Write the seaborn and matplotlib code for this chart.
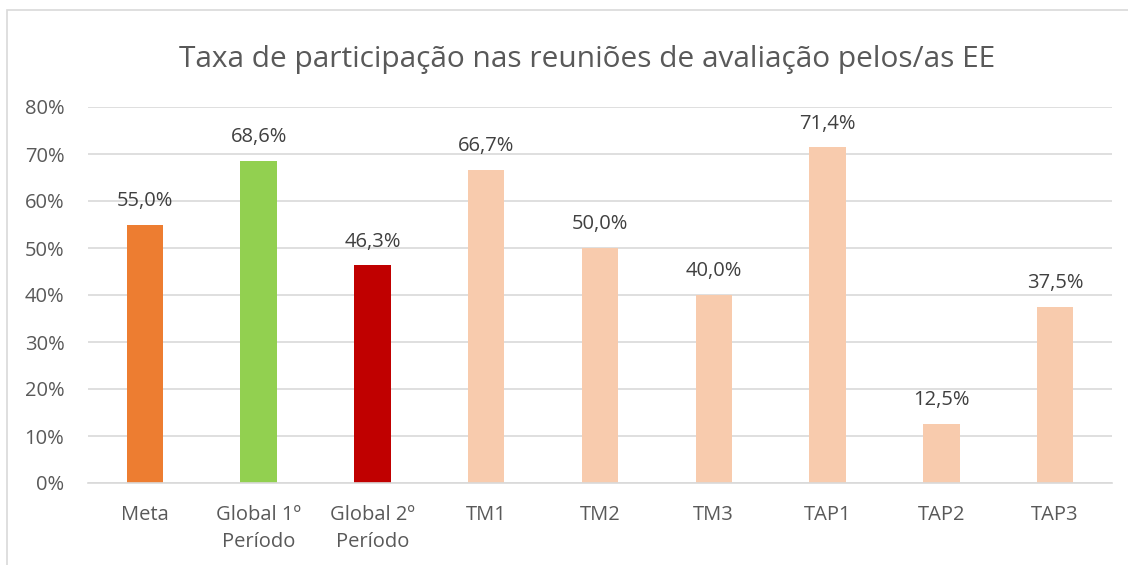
import matplotlib
matplotlib.use("Agg")
import matplotlib.pyplot as plt
import seaborn as sns
import pandas as pd
from matplotlib.patches import Rectangle

# --- dados ---
categorias = ["Meta", "Global 1º\nPeríodo", "Global 2º\nPeríodo", "TM1", "TM2", "TM3", "TAP1", "TAP2", "TAP3"]
valores = [55.0, 68.6, 46.3, 66.7, 50.0, 40.0, 71.4, 12.5, 37.5]
cores = ["#ED7D31", "#92D050", "#C00000", "#F8CBAD", "#F8CBAD", "#F8CBAD", "#F8CBAD", "#F8CBAD", "#F8CBAD"]
y_ticks = [0, 10, 20, 30, 40, 50, 60, 70, 80]

sns.set_theme(style="white")
plt.rcParams["font.family"] = ["Open Sans", "DejaVu Sans"]
TXT = "#595959"

df = pd.DataFrame({"cat": categorias, "val": valores})

fig = plt.figure(figsize=(11.28, 5.65), dpi=100)
ax = fig.add_axes([88 / 1128, 1 - 483 / 565, (1112 - 88) / 1128, (483 - 107) / 565])

sns.barplot(data=df, x="cat", y="val", hue="cat", palette=cores, legend=False,
            width=0.32, saturation=1, linewidth=0, ax=ax)

ax.set_ylim(0, 80)
ax.set_xlim(-0.5, len(categorias) - 0.5)
ax.set_yticks(y_ticks)
ax.set_yticklabels([f"{t}%" for t in y_ticks])
ax.yaxis.grid(True, color="#d9d9d9", linewidth=1.2)
ax.set_axisbelow(True)
for s in ["top", "right", "left"]:
    ax.spines[s].set_visible(False)
ax.spines["bottom"].set_color("#d9d9d9")
ax.spines["bottom"].set_linewidth(1.2)
ax.tick_params(axis="both", length=0, labelsize=14.5, labelcolor=TXT)
ax.tick_params(axis="x", pad=16)
ax.tick_params(axis="y", pad=17)
for lbl in ax.get_xticklabels():
    lbl.set_linespacing(1.45)
ax.set_xlabel("")
ax.set_ylabel("")

for i, v in enumerate(valores):
    ax.annotate(f"{v:.1f}%".replace(".", ","), (i, v), xytext=(0, 10),
                textcoords="offset points", ha="center", va="bottom",
                fontsize=14.5, color="#404040")

fig.text(587 / 1128, 1 - 59 / 565, "Taxa de participação nas reuniões de avaliação pelos/as EE",
         ha="center", va="center", fontsize=21.5, color=TXT)

# moldura do gráfico
fig.patches.append(Rectangle((7 / 1128, -0.1), 1.2, 1 - 10 / 565 + 0.1,
                             transform=fig.transFigure, fill=False,
                             edgecolor="#d9d9d9", linewidth=1.2))

fig.savefig("out.png", dpi=100)
